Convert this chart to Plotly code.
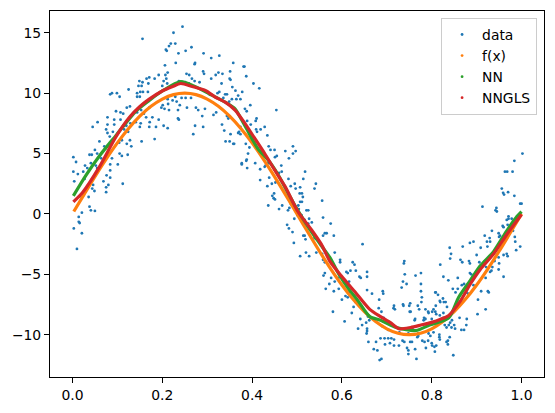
import plotly.graph_objects as go

data_xy = [
    (0.245,15.5),(0.225,15.0),(0.156,14.5),(0.219,14.1),(0.229,14.1),(0.215,13.9),(0.208,13.6),(0.210,13.5),
    (0.265,13.8),(0.252,13.5),(0.236,13.3),(0.292,13.3),(0.230,12.5),(0.273,12.5),(0.272,12.4),(0.206,12.3),
    (0.309,12.9),(0.192,11.5),(0.212,11.7),(0.254,11.6),(0.207,11.5),(0.260,11.5),(0.291,11.8),(0.293,11.6),
    (0.171,11.3),(0.165,11.2),(0.149,11.0),(0.209,11.2),(0.183,11.2),(0.203,11.0),(0.266,11.2),(0.237,11.0),
    (0.245,10.9),(0.251,10.9),(0.272,11.0),(0.259,10.8),(0.283,10.9),(0.309,11.2),(0.156,10.9),(0.147,10.6),
    (0.154,10.6),(0.169,10.8),(0.200,10.6),(0.211,10.8),(0.151,10.1),(0.125,10.3),(0.157,10.1),(0.168,10.1),
    (0.144,10.0),(0.084,9.9),(0.088,10.0),(0.099,10.0),(0.105,9.7),(0.144,9.7),(0.150,9.7),(0.229,9.7),
    (0.243,9.6),(0.252,9.6),(0.264,9.6),(0.212,9.5),(0.223,9.4),(0.232,9.3),(0.213,9.1),(0.201,9.0),
    (0.239,9.0),(0.255,8.8),(0.275,8.8),(0.128,8.9),(0.121,8.8),(0.171,8.8),(0.198,8.8),(0.205,8.7),
    (0.235,8.6),(0.097,8.5),(0.107,8.4),(0.113,8.3),(0.144,8.4),(0.153,8.6),(0.159,8.3),(0.215,8.6),
    (0.280,8.6),(0.289,8.1),(0.314,8.2),(0.295,8.7),(0.164,8.0),(0.178,8.0),(0.192,7.8),(0.235,7.9),
    (0.078,8.0),(0.093,7.8),(0.107,7.8),(0.045,7.2),(0.056,7.6),(0.078,7.4),(0.093,7.4),(0.120,7.3),
    (0.129,7.5),(0.141,7.6),(0.152,7.5),(0.172,7.6),(0.186,7.2),(0.150,7.2),(0.171,7.2),(0.203,7.3),
    (0.212,7.1),(0.237,7.8),(0.273,7.3),(0.291,7.2),(0.075,7.0),(0.090,6.8),(0.115,7.0),(0.124,6.8),
    (0.078,6.7),(0.083,6.4),(0.110,6.1),(0.128,6.1),(0.154,6.0),(0.183,6.2),(0.060,6.0),(0.104,5.9),
    (0.269,6.6),(0.071,5.6),(0.085,5.8),(0.121,5.8),(0.131,5.6),(0.073,5.4),(0.050,5.3),(0.055,5.0),
    (0.061,4.8),(0.043,4.9),(0.038,4.9),(0.105,5.0),(0.123,4.9),(0.110,4.8),(0.064,4.6),(0.088,4.6),
    (0.002,4.7),(0.041,4.2),(0.084,4.1),(0.101,4.1),(0.052,4.0),(0.008,4.3),(0.028,4.0),(0.033,3.8),
    (0.055,3.8),(0.084,3.6),(0.002,3.5),(0.012,3.3),(0.024,3.5),(0.051,3.2),(0.076,3.2),(0.084,3.0),
    (0.069,2.7),(0.080,2.4),(0.004,2.7),(0.112,2.5),(0.027,2.9),(0.044,2.1),(0.049,1.9),(0.075,2.2),
    (0.075,1.8),(0.046,2.4),
    (0.036,1.4),(0.038,0.6),(0.041,0.3),(0.050,0.25),(0.021,0.1),(0.014,-0.25),(0.014,-0.65),(0.016,-0.75),
    (0.003,-1.2),(0.021,-1.6),(0.010,-2.9),(0.016,1.45),
    (0.327,13.1),(0.358,12.5),(0.381,12.2),(0.383,12.2),(0.325,11.7),(0.334,11.6),(0.319,11.5),(0.351,11.8),
    (0.350,11.2),(0.352,11.1),(0.387,11.4),(0.403,10.8),(0.332,10.8),(0.356,10.5),(0.416,10.4),(0.363,10.2),
    (0.378,10.1),(0.323,10.0),(0.327,10.1),(0.340,9.9),(0.344,9.9),(0.369,9.8),(0.374,9.5),(0.365,9.5),
    (0.336,9.6),(0.355,9.5),(0.349,9.3),(0.396,9.0),(0.454,8.6),(0.384,8.7),(0.388,8.5),(0.320,8.4),
    (0.344,8.1),(0.347,7.9),(0.410,7.9),(0.408,7.7),(0.389,7.7),(0.397,7.4),(0.333,7.4),(0.428,7.2),
    (0.374,7.2),(0.338,6.9),(0.419,7.0),(0.411,6.8),(0.409,7.0),(0.369,6.7),(0.374,6.6),(0.371,6.8),
    (0.352,6.6),(0.434,6.5),(0.341,6.0),(0.350,6.0),(0.358,5.8),(0.360,5.8),(0.386,5.8),(0.394,5.5),
    (0.437,5.6),(0.441,5.3),(0.491,5.6),(0.497,5.2),(0.491,5.0),(0.391,5.0),(0.450,5.3),(0.474,5.2),
    (0.455,4.8),(0.451,4.7),(0.482,4.6),(0.377,4.2),(0.377,4.1),(0.388,4.5),(0.387,4.4),(0.407,4.2),
    (0.436,4.2),(0.430,4.0),(0.428,3.9),(0.465,4.0),(0.389,3.8),(0.418,3.7),(0.466,3.5),(0.518,3.5),
    (0.460,3.4),(0.438,3.0),(0.481,2.9),(0.418,2.8),(0.495,2.5),(0.542,2.5),(0.514,2.9),(0.444,2.5),
    (0.452,2.6),(0.486,2.3),(0.507,2.2),(0.497,2.1),(0.434,2.3),(0.539,2.1),(0.449,1.7),(0.506,1.7),
    (0.511,1.7),
    (0.445,1.5),(0.448,1.3),(0.451,1.2),(0.436,0.7),(0.460,0.4),(0.467,0.7),(0.483,0.5),(0.480,0.3),
    (0.487,0.8),(0.507,1.0),(0.511,1.0),(0.513,1.4),(0.556,1.1),(0.503,0.7),(0.504,0.4),(0.521,0.3),
    (0.525,0.3),(0.501,-0.1),(0.494,-0.4),(0.510,-0.1),(0.558,-0.3),(0.517,-0.5),(0.527,-0.4),(0.525,-0.8),
    (0.533,-0.7),(0.575,-0.8),(0.478,-0.9),(0.482,-1.2),(0.490,-1.5),(0.514,-1.8),(0.517,-1.8),(0.558,-1.8),
    (0.562,-1.6),(0.566,-1.6),(0.582,-1.8),(0.519,-2.1),(0.539,-2.0),(0.646,-2.5),(0.493,-2.4),(0.520,-3.2),
    (0.507,-3.5),(0.527,-3.5),(0.543,-3.2),(0.556,-3.3),(0.584,-3.2),(0.558,-3.8),(0.562,-4.0),(0.596,-3.8),
    (0.596,-4.0),(0.624,-4.0),(0.628,-4.2),(0.619,-4.7),(0.631,-4.7),(0.610,-4.8),(0.613,-4.9),(0.559,-5.1),
    (0.562,-4.9),(0.656,-4.8),(0.656,-5.2),(0.639,-5.2),(0.642,-5.3),(0.576,-5.3),(0.592,-5.3),(0.584,-5.6),
    (0.616,-5.6),(0.572,-5.8),(0.614,-5.9),(0.564,-6.2),(0.582,-6.4),(0.593,-6.2),(0.656,-6.3),(0.616,-6.5),
    (0.600,-7.1),(0.608,-6.8),(0.613,-6.9),(0.667,-6.6),(0.683,-7.1),(0.630,-7.3),(0.626,-7.7),(0.580,-8.1),
    (0.622,-8.2),(0.641,-8.7),(0.682,-7.8),(0.606,-8.9),(0.658,-8.5),(0.661,-8.8),(0.654,-9.0),(0.645,-9.2),
    (0.636,-9.5),(0.656,-9.5),(0.656,-9.7),(0.655,-9.9),(0.659,-10.6),(0.676,-10.6),(0.686,-10.3),(0.671,-11.2),
    (0.679,-11.3),(0.684,-12.1),
    (0.961,1.6),(0.984,1.5),(1.000,0.85),(0.997,0.85),(0.913,0.6),(0.944,0.5),(0.942,0.3),(0.945,0.2),
    (0.971,-0.2),(0.971,-0.4),(0.978,-0.4),(0.967,-0.5),(0.958,-1.0),(0.960,-1.1),(0.969,-0.9),(0.949,-1.6),
    (0.952,-1.8),(0.950,-1.9),(0.934,-1.4),(0.918,-1.8),(0.929,-2.0),(0.985,-1.9),(0.986,-2.3),(0.981,-1.4),
    (0.930,-2.3),(0.923,-2.3),(0.909,-2.8),(0.924,-2.7),(0.893,-2.3),(0.885,-2.4),(0.869,-2.7),(0.840,-2.8),
    (0.900,-3.4),(0.997,-2.7),(0.988,-3.0),(0.967,-3.3),(0.969,-3.5),(0.960,-3.4),(0.950,-4.1),(0.940,-3.9),
    (0.930,-4.8),(0.935,-4.4),(0.933,-4.7),(0.960,-5.2),(0.918,-3.9),(0.911,-4.3),(0.921,-4.4),(0.906,-4.0),
    (0.949,-3.6),(0.864,-3.8),(0.868,-4.0),(0.841,-3.7),(0.843,-3.3),(0.883,-3.9),(0.885,-4.1),(0.819,-4.2),
    (0.739,-3.9),(0.738,-4.1),(0.826,-5.2),(0.764,-5.1),(0.776,-4.9),(0.740,-5.0),(0.858,-5.3),(0.885,-4.9),
    (0.888,-5.0),(0.920,-5.3),(0.949,-4.6),(0.736,-5.6),(0.733,-6.1),(0.744,-5.8),(0.776,-5.8),(0.776,-6.4),
    (0.837,-5.5),(0.858,-6.2),(0.867,-5.9),(0.872,-5.8),(0.847,-6.2),(0.853,-6.5),(0.877,-6.5),(0.881,-6.6),
    (0.893,-5.9),(0.910,-6.4),(0.903,-7.1),(0.925,-6.4),(0.927,-6.5),(0.920,-7.9),(0.902,-8.3),(0.808,-6.5),
    (0.814,-6.7),(0.809,-6.5),(0.818,-7.2),(0.819,-7.3),(0.825,-7.0),(0.827,-7.3),(0.778,-6.9),(0.777,-7.3),
    (0.691,-6.4),(0.692,-6.6),(0.716,-7.6),(0.715,-7.8),(0.718,-7.9),(0.736,-7.5),(0.737,-7.6),(0.752,-7.4),
    (0.750,-7.6),(0.769,-7.6),(0.772,-7.9),(0.786,-7.9),(0.792,-8.1),(0.793,-8.2),(0.801,-8.1),(0.804,-7.9),
    (0.809,-7.6),(0.834,-7.7),(0.831,-7.3),(0.862,-8.6),(0.878,-8.7),(0.872,-9.6),(0.866,-9.6),(0.877,-9.2),
    (0.850,-9.2),(0.751,-8.1),(0.753,-8.1),(0.763,-8.7),(0.762,-8.8),(0.783,-8.6),(0.782,-8.8),(0.786,-8.7),
    (0.808,-8.1),(0.810,-8.3),(0.826,-8.2),(0.818,-8.4),(0.800,-8.7),(0.826,-8.6),(0.845,-8.8),(0.841,-9.0),
    (0.838,-9.2),(0.829,-9.2),(0.833,-9.4),(0.844,-9.4),(0.852,-9.5),(0.688,-8.1),(0.693,-8.6),(0.690,-9.3),
    (0.703,-9.6),(0.695,-10.3),(0.703,-10.3),(0.710,-10.3),(0.696,-10.8),(0.688,-12.0),(0.728,-9.8),(0.716,-10.9),
    (0.727,-10.9),(0.735,-10.5),(0.739,-10.6),(0.745,-11.1),(0.748,-11.3),(0.752,-10.6),(0.756,-10.6),(0.763,-11.2),
    (0.748,-11.6),(0.766,-12.0),(0.768,-10.2),(0.770,-9.9),(0.770,-10.1),(0.779,-10.5),(0.784,-10.6),(0.793,-9.9),
    (0.797,-10.1),(0.792,-10.5),(0.800,-10.7),(0.801,-10.9),(0.810,-10.9),(0.806,-11.0),(0.817,-10.0),(0.817,-10.2),
    (0.818,-10.4),(0.804,-9.8),(0.787,-11.1),(0.807,-11.4),(0.833,-10.6),(0.836,-10.8),(0.836,-10.5),(0.840,-10.2),
    (0.848,-11.7),(0.727,-9.5),(0.757,-9.5),(0.748,-9.9),(0.760,-10.0),(0.716,-10.4),(0.707,-10.7),
    (1.002,5.0),(0.984,4.4),(0.963,3.5),(0.968,3.5),(0.980,3.5),(0.956,2.1),(0.959,1.75),(0.970,1.8),
]
data_x = [p[0] for p in data_xy]
data_y = [p[1] for p in data_xy]

# ---- true function f(x) ----
f_x = [0.003, 0.025, 0.05, 0.075, 0.1, 0.125, 0.15, 0.175, 0.2, 0.225, 0.25, 0.275, 0.3, 0.325, 0.35,
       0.375, 0.4, 0.425, 0.45, 0.475, 0.5, 0.525, 0.55, 0.575, 0.6, 0.625, 0.65, 0.675, 0.7, 0.725,
       0.75, 0.775, 0.8, 0.825, 0.85, 0.875, 0.9, 0.925, 0.95, 0.975, 1.0]
f_y = [0.2, 1.56, 3.09, 4.54, 5.88, 7.07, 8.09, 8.91, 9.51, 9.88, 10.0, 9.88, 9.51, 8.91, 8.09,
       7.07, 5.88, 4.54, 3.09, 1.56, 0.0, -1.56, -3.09, -4.54, -5.88, -7.07, -8.09, -8.91, -9.51, -9.88,
       -10.0, -9.88, -9.51, -8.91, -8.09, -7.07, -5.88, -4.54, -3.09, -1.56, 0.0]

# ---- NN fit ----
nn_x = [0.002, 0.030, 0.060, 0.097, 0.141, 0.171, 0.201, 0.241, 0.270, 0.304, 0.347, 0.362, 0.384,
        0.413, 0.435, 0.457, 0.500, 0.540, 0.573, 0.595, 0.613, 0.636, 0.662, 0.686, 0.721, 0.765,
        0.795, 0.838, 0.860, 0.886, 0.908, 0.938, 0.967, 0.990, 1.0]
nn_y = [1.5, 3.2, 4.8, 6.5, 8.5, 9.4, 10.2, 10.95, 10.6, 9.95, 9.1, 8.7, 7.3,
        5.4, 4.5, 3.3, 0.4, -1.9, -3.6, -5.1, -6.1, -7.2, -8.5, -8.8, -9.4, -9.65,
        -9.2, -8.6, -6.9, -5.5, -4.3, -3.1, -1.4, -0.2, 0.2]

# ---- NNGLS fit ----
nngls_x = [0.002, 0.023, 0.060, 0.097, 0.127, 0.149, 0.171, 0.201, 0.223, 0.241, 0.267, 0.297, 0.317,
           0.340, 0.362, 0.384, 0.406, 0.428, 0.451, 0.473, 0.502, 0.532, 0.554, 0.573, 0.598, 0.628,
           0.662, 0.686, 0.708, 0.727, 0.753, 0.776, 0.798, 0.821, 0.838, 0.864, 0.886, 0.908, 0.938,
           0.967, 1.0]
nngls_y = [1.0, 1.8, 3.9, 6.4, 8.0, 8.85, 9.5, 10.2, 10.55, 10.8, 10.55, 10.2, 9.7,
           9.25, 8.6, 7.5, 6.25, 5.0, 3.6, 2.3, 0.2, -1.3, -2.5, -3.9, -5.1, -6.4,
           -7.9, -8.5, -9.0, -9.5, -9.4, -9.2, -9.0, -8.7, -8.4, -7.2, -5.8, -4.6, -3.3,
           -1.7, -0.05]

C_DATA, C_F, C_NN, C_NNGLS = "#1f77b4", "#ff7f0e", "#2ca02c", "#d62728"
FONT = "DejaVu Sans"

fig = go.Figure()
fig.add_trace(go.Scatter(x=data_x, y=data_y, mode="markers", name="data",
                         marker=dict(color=C_DATA, size=2.8)))
for xs, ys, c, shape in [(f_x, f_y, C_F, "spline"), (nn_x, nn_y, C_NN, "spline"),
                         (nngls_x, nngls_y, C_NNGLS, "spline")]:
    fig.add_trace(go.Scatter(x=xs, y=ys, mode="lines", showlegend=False,
                             line=dict(color=c, width=3.2, shape=shape, smoothing=0.7)))
for name, c in [("f(x)", C_F), ("NN", C_NN), ("NNGLS", C_NNGLS)]:
    fig.add_trace(go.Scatter(x=[None], y=[None], mode="markers", name=name,
                             marker=dict(color=c, size=2.8)))

axis_common = dict(showline=True, mirror=True, linecolor="black", linewidth=1,
                   ticks="outside", ticklen=5, tickwidth=1, tickcolor="black",
                   showgrid=False, zeroline=False,
                   tickfont=dict(family=FONT, size=13.9, color="black"))
fig.update_xaxes(range=[-0.05, 1.05], tickvals=[0, 0.2, 0.4, 0.6, 0.8, 1.0],
                 ticktext=["0.0", "0.2", "0.4", "0.6", "0.8", "1.0"], **axis_common)
fig.update_yaxes(range=[-13.5, 16.8], tickvals=[-10, -5, 0, 5, 10, 15], **axis_common)

fig.update_layout(
    width=555, height=413,
    margin=dict(l=50, r=10, t=10, b=35),
    plot_bgcolor="white", paper_bgcolor="white",
    font=dict(family=FONT, size=13.9, color="black"),
    legend=dict(x=0.986, y=0.981, xanchor="right", yanchor="top",
                bgcolor="rgba(255,255,255,0.8)", bordercolor="#cccccc", borderwidth=1,
                font=dict(family=FONT, size=13.9, color="black"),
                tracegroupgap=0),
)
fig.write_html("out.html")
